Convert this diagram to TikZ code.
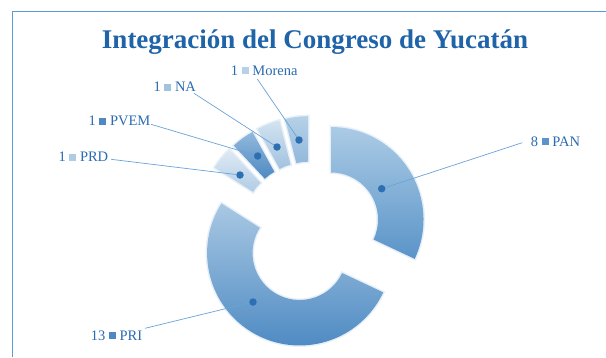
\documentclass[tikz,border=0pt]{standalone}
\usepackage{fontspec}
\setmainfont{Liberation Serif}
\usetikzlibrary{calc}
\definecolor{titleblue}{HTML}{1F63A8}
\definecolor{labblue}{HTML}{2A6BB2}
\definecolor{framecol}{HTML}{5B9BD5}
\definecolor{leadcol}{HTML}{6AA3D8}
\definecolor{dotcol}{HTML}{2C70B3}
\definecolor{glowcol}{HTML}{BDD6EE}
\definecolor{panT}{HTML}{ABCBE5}\definecolor{panB}{HTML}{5A94C8}
\definecolor{priT}{HTML}{A9C8E3}\definecolor{priB}{HTML}{4C89C2}
\definecolor{prdT}{HTML}{DFEAF4}\definecolor{prdB}{HTML}{B0CCE5}
\definecolor{pvemT}{HTML}{92B9DD}\definecolor{pvemB}{HTML}{4E89C1}
\definecolor{naT}{HTML}{D3E3F1}\definecolor{naB}{HTML}{A2C2DF}
\definecolor{morT}{HTML}{B6D1E8}\definecolor{morB}{HTML}{92B8DB}
\newcommand{\mkbox}[1]{\textcolor{#1}{\rule[0.6pt]{7pt}{7pt}}}
\newcommand{\segm}[5]{%
  \path ($(C0)+({(#1+#2)/2}:23.7pt)$) coordinate (c#5);
  \shade[top color=#3, bottom color=#4,
    preaction={draw=glowcol, line width=3pt, opacity=.35}]
    ($(c#5)+(#1:47pt)$) arc[start angle=#1, end angle=#2, radius=47pt]
    -- ($(c#5)+(#2:92.5pt)$) arc[start angle=#2, end angle=#1, radius=92.5pt] -- cycle;}
\tikzset{
  lab/.style={anchor=base west, inner sep=0pt, text=labblue, font=\fontsize{14.5}{17}\selectfont},
  dot/.style={circle, fill=dotcol, inner sep=0pt, minimum size=7.5pt},
  lead/.style={draw=leadcol, line width=0.7pt}
}
\begin{document}
\begin{tikzpicture}[x=1pt,y=1pt]
\useasboundingbox (0,0) rectangle (606,-357);
\fill[white] (0,0) rectangle (606,-357);
\draw[framecol, line width=1pt] (12.3,-357) -- (12.3,-11.5) -- (606,-11.5);
\node[anchor=base, inner sep=0pt, text=titleblue, font=\fontsize{27}{32}\selectfont\bfseries] (title) at (315,-48.3) {Integración del Congreso de Yucatán};
\coordinate (C0) at (311,-232.2);
\segm{90}{-25.2}{panT}{panB}{PAN}
\segm{-25.2}{-212.4}{priT}{priB}{PRI}
\segm{-212.4}{-226.8}{prdT}{prdB}{PRD}
\segm{-226.8}{-241.2}{pvemT}{pvemB}{PVEM}
\segm{-241.2}{-255.6}{naT}{naB}{NA}
\segm{-255.6}{-270}{morT}{morB}{MOR}
% labels
\node[lab] (lMOR) at (230.7,-75) {1 \mkbox{morT} Morena};
\node[lab] (lNA) at (153.3,-91.7) {1 \mkbox{naB} NA};
\node[lab] (lPVEM) at (88.3,-125.7) {1 \mkbox{pvemB} PVEM};
\node[lab] (lPRD) at (58.3,-161.7) {1 \mkbox{prdB} PRD};
\node[lab] (lPAN) at (530.7,-146) {8 \mkbox{panB} PAN};
\node[lab] (lPRI) at (90.7,-340) {13 \mkbox{priB} PRI};
% leader starts
\coordinate (sMOR) at (257.3,-79);
\coordinate (sNA) at (194,-93.3);
\coordinate (sPVEM) at (151,-124.3);
\coordinate (sPRD) at (111,-159.3);
\coordinate (sPAN) at (522.3,-142.7);
\coordinate (sPRI) at (145,-328.3);
% dots
\node[dot] (dMOR) at (299,-140) {};
\node[dot] (dNA) at (277,-147) {};
\node[dot] (dPVEM) at (257.7,-156) {};
\node[dot] (dPRD) at (240,-175) {};
\node[dot] (dPAN) at (381.7,-188.7) {};
\node[dot] (dPRI) at (253,-302) {};
\foreach \n in {MOR,NA,PVEM,PRD,PAN,PRI}{\draw[lead] (s\n) -- (d\n);}
\end{tikzpicture}
\end{document}
